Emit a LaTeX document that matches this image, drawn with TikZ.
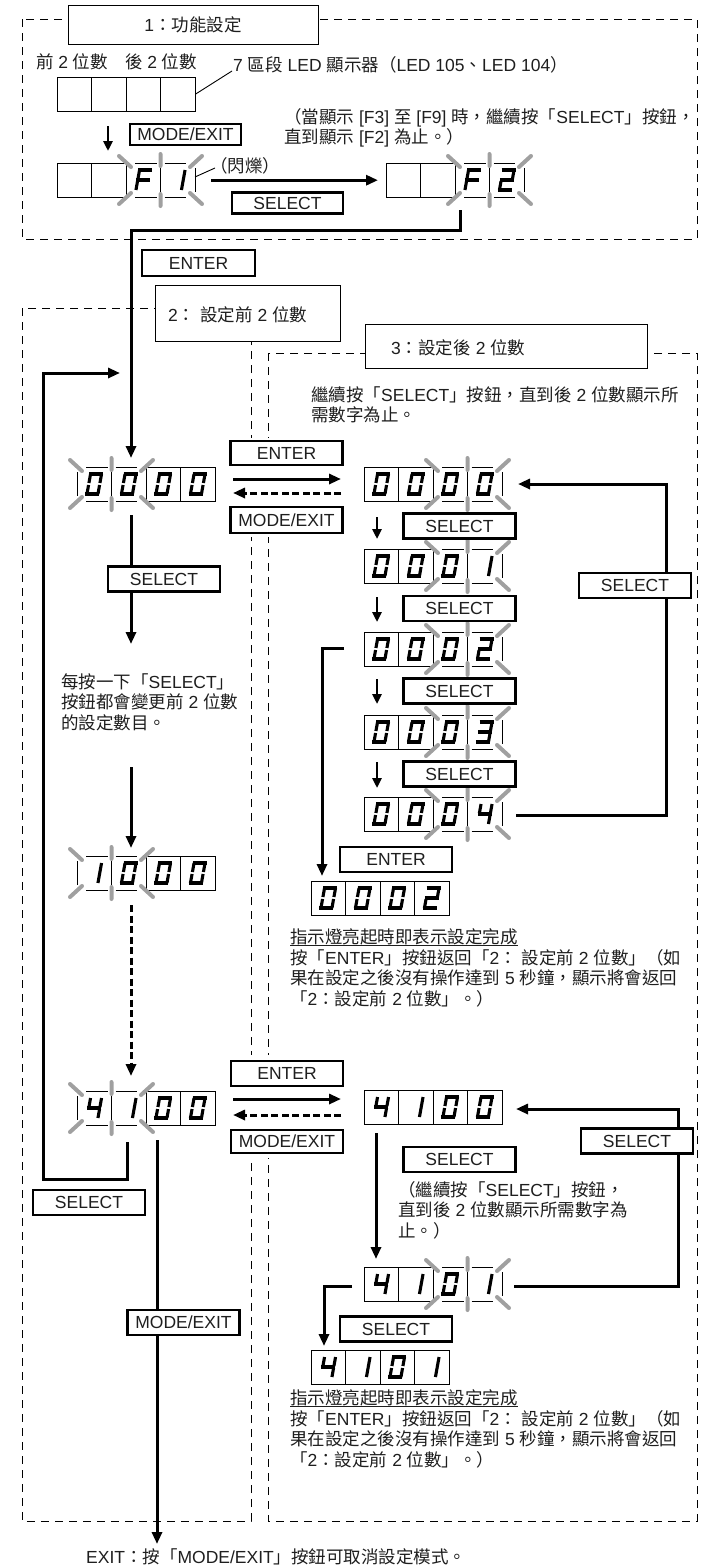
\documentclass[tikz,border=0pt]{standalone}
\usepackage{fontspec}
\setmainfont{Liberation Sans}
\newfontfamily\cjkf{Noto Sans CJK TC}
\newfontfamily\latf{Liberation Sans}
\usetikzlibrary{arrows.meta}
\newXeTeXintercharclass\mycjkclass
\newcount\mycnt
\mycnt="3000 \loop\XeTeXcharclass\mycnt=\mycjkclass\relax\ifnum\mycnt<"303F \advance\mycnt by 1 \repeat
\mycnt="4E00 \loop\XeTeXcharclass\mycnt=\mycjkclass\relax\ifnum\mycnt<"9FFF \advance\mycnt by 1 \repeat
\mycnt="FF00 \loop\XeTeXcharclass\mycnt=\mycjkclass\relax\ifnum\mycnt<"FFEF \advance\mycnt by 1 \repeat
\XeTeXinterchartoks 0 \mycjkclass = {\cjkf}
\XeTeXinterchartoks 4095 \mycjkclass = {\cjkf}
\XeTeXinterchartoks \mycjkclass 0 = {\latf}
\XeTeXinterchartoks \mycjkclass 4095 = {\latf}
\XeTeXinterchartokenstate=1
\definecolor{tcol}{RGB}{30,30,30}
\definecolor{raycol}{RGB}{160,160,160}
\newcommand{\myfs}{\fontsize{17.5}{20.5}\selectfont}
% seven segment pieces
\newcommand{\sgA}{\draw[seg] (-7,-10)--(7,-10);}
\newcommand{\sgB}{\draw[seg] (5.5,-10)--(5.5,-1);}
\newcommand{\sgC}{\draw[seg] (5.5,1)--(5.5,10);}
\newcommand{\sgD}{\draw[seg] (-7,10)--(7,10);}
\newcommand{\sgE}{\draw[seg] (-5.5,1)--(-5.5,10);}
\newcommand{\sgF}{\draw[seg] (-5.5,-10)--(-5.5,-1);}
\newcommand{\sgG}{\draw[seg] (-7,0)--(7,0);}
\newcommand{\sgI}{\draw[seg] (5.5,-10)--(5.5,10);}
\newcommand{\sevdigit}[3]{\begin{scope}[shift={(#1,#2)},xslant=0.18]\ifcase#3\relax \sgA\sgB\sgC\sgD\sgE\sgF\or \sgI\or \sgA\sgB\sgG\sgE\sgD\or \sgA\sgB\sgG\sgC\sgD\or \sgF\sgG\sgB\sgC\or\or\or\or\or\or \sgA\sgF\sgG\sgE\fi\end{scope}}
\newcommand{\blinkpair}{%
 \draw[cell] (0,5)--(0,29) (34.5,4)--(34.5,30) (69,5)--(69,29) (9,0)--(30.5,0) (38.5,0)--(60,0) (9,34)--(30.5,34) (38.5,34)--(60,34);
 \draw[ray] (-7,-7)--(5,4) (34.5,-9)--(34.5,3) (76,-7)--(64,4) (-7,41)--(5,30) (34.5,43)--(34.5,31) (76,41)--(64,30);}
\newcommand{\disp}[8]{%
 \node[dispbox,anchor=north west] (#1) at (#2,#3) {};
 \begin{scope}[shift={(#2,#3)}]
 \ifcase#8\relax
  \draw[cell] (0,0) rectangle (138,34) (34.5,0)--(34.5,34) (69,0)--(69,34) (103.5,0)--(103.5,34);
 \or
  \draw[cell] (69,0) rectangle (138,34) (103.5,0)--(103.5,34);
  \blinkpair
 \or
  \draw[cell] (0,0) rectangle (69,34) (34.5,0)--(34.5,34);
  \begin{scope}[shift={(69,0)}]\blinkpair\end{scope}
 \fi
 \sevdigit{17.25}{17}{#4}\sevdigit{51.75}{17}{#5}\sevdigit{86.25}{17}{#6}\sevdigit{120.75}{17}{#7}
 \end{scope}}
\tikzset{
 cell/.style={line width=0.9pt},
 ray/.style={line width=4pt, draw=raycol, line cap=round},
 seg/.style={line width=3.1pt},
 dbox/.style={line width=0.9pt, dash pattern=on 8pt off 6pt},
 ttl/.style={draw, line width=0.9pt, fill=white, inner sep=0pt, font=\myfs, text=tcol},
 btn/.style={draw, line width=2.3pt, fill=white, minimum width=112pt, minimum height=25pt, inner sep=0pt, font=\myfs, text=tcol},
 txt/.style={inner sep=0pt, font=\myfs, text=tcol, align=left},
 conn/.style={line width=3pt},
 arr/.style={conn, -{Triangle[length=12pt,width=10pt]}},
 darr/.style={arr, dash pattern=on 7pt off 3.5pt},
 sarr/.style={line width=2.5pt, -{Triangle[length=10pt,width=9pt]}},
 lead/.style={line width=0.9pt},
 dispbox/.style={minimum width=138pt, minimum height=34pt, inner sep=0pt, draw=none},
}
\begin{document}
\begin{tikzpicture}[x=1pt,y=-1pt]
\useasboundingbox (0,0) rectangle (703,1566);
% dashed frames
\draw[dbox] (22,19) rectangle (697,239);
\draw[dbox] (22,308) rectangle (251,1521);
\draw[dbox] (268,353) rectangle (697,1521);
\fill[white] (240,438) rectangle (280,537);
\fill[white] (240,1055) rectangle (280,1158);
% titles
\node[ttl, minimum width=250pt, minimum height=39pt] (T1) at (193,24.5) {1：功能設定};
\node[ttl, minimum width=185pt, minimum height=56pt] (T2) at (247.5,313) {};
\node[txt, anchor=west] (T2t) at (168,315) {2： 設定前 2 位數};
\node[ttl, minimum width=282pt, minimum height=44pt] (T3) at (506,346) {};
\node[txt, anchor=west] (T3t) at (391,348) {3：設定後 2 位數};
% section 1 texts
\node[txt] (lfront) at (72,62) {前 2 位數};
\node[txt] (lback) at (161,62) {後 2 位數};
\node[txt, anchor=west] (lled) at (233,65) {7 區段 LED 顯示器（LED 105、LED 104）};
\node[txt, anchor=west] (lblink) at (210,166) {（閃爍）};
\node[txt, anchor=north west] (note1) at (284,108) {（當顯示 [F3] 至 [F9] 時，繼續按「SELECT」按鈕，\\直到顯示 [F2] 為止。）};
% displays
\disp{dE}{57}{77}{11}{11}{11}{11}{0}
\disp{dFa}{57}{163}{11}{11}{10}{1}{2}
\disp{dFb}{386}{163}{11}{11}{10}{2}{2}
\disp{dLa}{77}{467}{0}{0}{0}{0}{1}
\disp{dRa}{364}{467}{0}{0}{0}{0}{2}
\disp{dRb}{364}{549}{0}{0}{0}{1}{2}
\disp{dRc}{364}{632}{0}{0}{0}{2}{2}
\disp{dRd}{364}{715}{0}{0}{0}{3}{2}
\disp{dRe}{364}{797}{0}{0}{0}{4}{2}
\disp{dDa}{311}{881}{0}{0}{0}{2}{0}
\disp{dLb}{77}{856}{1}{0}{0}{0}{1}
\disp{dLc}{77}{1091}{4}{1}{0}{0}{1}
\disp{dRf}{364}{1090}{4}{1}{0}{0}{0}
\disp{dRg}{364}{1267}{4}{1}{0}{1}{2}
\disp{dDb}{311}{1350}{4}{1}{0}{1}{0}
% coordinates
\coordinate (ldA) at (232,71);
\coordinate (aA1) at (108,126); \coordinate (aA2) at (108,151);
\coordinate (ldB1) at (195,177); \coordinate (ldB2) at (215,168);
\coordinate (f2o) at (460,210); \coordinate (mA) at (131,230); \coordinate (mB) at (131,458);
\coordinate (lpA) at (127,1142); \coordinate (lpB) at (43,1179); \coordinate (lpC) at (120,373);
\coordinate (sA1) at (131,515); \coordinate (sA2) at (131,644);
\coordinate (sB1) at (131,767); \coordinate (sB2) at (131,848);
\coordinate (sC1) at (131,905); \coordinate (sC2) at (131,1076);
\coordinate (eA1) at (233,479); \coordinate (eA2) at (341,479);
\coordinate (eB1) at (341,493); \coordinate (eB2) at (233,493);
\coordinate (eC1) at (233,1099); \coordinate (eC2) at (341,1099);
\coordinate (eD1) at (341,1115); \coordinate (eD2) at (233,1115);
\coordinate (rA1) at (516,815); \coordinate (rA2) at (666,484); \coordinate (rA3) at (518,484);
\coordinate (q1a) at (377,517); \coordinate (q1b) at (377,539);
\coordinate (q2a) at (377,597); \coordinate (q2b) at (377,622);
\coordinate (q3a) at (377,679); \coordinate (q3b) at (377,704);
\coordinate (q4a) at (377,762); \coordinate (q4b) at (377,788);
\coordinate (oA1) at (344,648); \coordinate (oA2) at (322,876);
\coordinate (rB1) at (514,1286); \coordinate (rB2) at (678,1109); \coordinate (rB3) at (516,1109);
\coordinate (cA1) at (376,1133); \coordinate (cA2) at (376,1259);
\coordinate (oB1) at (352,1286); \coordinate (oB2) at (324,1346);
\coordinate (xA1) at (157,1140); \coordinate (xA2) at (157,1544);
% connectors
\draw[lead] (dE.east) -- (ldA);
\draw[sarr] (aA1) -- (aA2);
\draw[lead] (ldB1) -- (ldB2);
\draw[arr] ([xshift=16pt]dFa.east) -- ([xshift=-8pt]dFb.west);
\draw[arr] (f2o) |- (mA) -- (mB);
\draw[arr] (lpA) |- (lpB) |- (lpC);
\draw[arr] (sA1) -- (sA2);
\draw[arr] (sB1) -- (sB2);
\draw[darr] (sC1) -- (sC2);
\draw[arr] (eA1) -- (eA2);
\draw[darr] (eB1) -- (eB2);
\draw[arr] (eC1) -- (eC2);
\draw[darr] (eD1) -- (eD2);
\draw[arr] (rA1) -| (rA2) -- (rA3);
\draw[sarr] (q1a) -- (q1b);
\draw[sarr] (q2a) -- (q2b);
\draw[sarr] (q3a) -- (q3b);
\draw[sarr] (q4a) -- (q4b);
\draw[arr] (oA1) -| (oA2);
\draw[arr] (rB1) -| (rB2) -- (rB3);
\draw[arr] (cA1) -- (cA2);
\draw[arr] (oB1) -| (oB2);
\draw[arr] (xA1) -- (xA2);
% buttons
\node[btn, minimum width=111pt, minimum height=21pt] (b1) at (185.5,134.5) {MODE/EXIT};
\node[btn, minimum width=111pt, minimum height=21pt] (b2) at (287.5,203) {SELECT};
\node[btn, minimum width=113pt, minimum height=26pt] (b3) at (198.5,263) {ENTER};
\node[btn, minimum height=24pt] (b4) at (286.5,453) {ENTER};
\node[btn, minimum height=26pt] (b5) at (286.5,520) {MODE/EXIT};
\node[btn] (b6) at (164,579) {SELECT};
\node[btn] (b7) at (635,585.5) {SELECT};
\node[btn] (b8) at (459.5,526) {SELECT};
\node[btn] (b9) at (459.5,608.5) {SELECT};
\node[btn] (b10) at (459.5,691) {SELECT};
\node[btn] (b11) at (459.5,774) {SELECT};
\node[btn] (b12) at (396,859.5) {ENTER};
\node[btn] (b13) at (287,1073.5) {ENTER};
\node[btn, minimum height=23pt] (b14) at (287,1141.5) {MODE/EXIT};
\node[btn] (b15) at (637,1141) {SELECT};
\node[btn] (b16) at (459.5,1159.5) {SELECT};
\node[btn] (b17) at (89,1202.5) {SELECT};
\node[btn] (b18) at (183.5,1322.5) {MODE/EXIT};
\node[btn] (b19) at (396,1329) {SELECT};
% texts
\node[txt, anchor=north west] (note2) at (311,386) {繼續按「SELECT」按鈕，直到後 2 位數顯示所\\需數字為止。};
\node[txt, anchor=north west] (note3) at (61,673) {每按一下「SELECT」\\按鈕都會變更前 2 位數\\的設定數目。};
\node[txt, anchor=west] (h1) at (290,937) {指示燈亮起時即表示設定完成};
\draw[line width=1pt, tcol] (h1.south west) -- (h1.south east);
\node[txt, anchor=north west] (p1) at (290,949) {按「ENTER」按鈕返回「2： 設定前 2 位數」（如\\果在設定之後沒有操作達到 5 秒鐘，顯示將會返回\\「2：設定前 2 位數」。）};
\node[txt, anchor=north west] (note4) at (398,1181) {（繼續按「SELECT」按鈕，\\直到後 2 位數顯示所需數字為\\止。）};
\node[txt, anchor=west] (h2) at (290,1398) {指示燈亮起時即表示設定完成};
\draw[line width=1pt, tcol] (h2.south west) -- (h2.south east);
\node[txt, anchor=north west] (p2) at (290,1410) {按「ENTER」按鈕返回「2： 設定前 2 位數」（如\\果在設定之後沒有操作達到 5 秒鐘，顯示將會返回\\「2：設定前 2 位數」。）};
\node[txt, anchor=west] (exitt) at (86,1557) {EXIT：按「MODE/EXIT」按鈕可取消設定模式。};
\end{tikzpicture}
\end{document}
